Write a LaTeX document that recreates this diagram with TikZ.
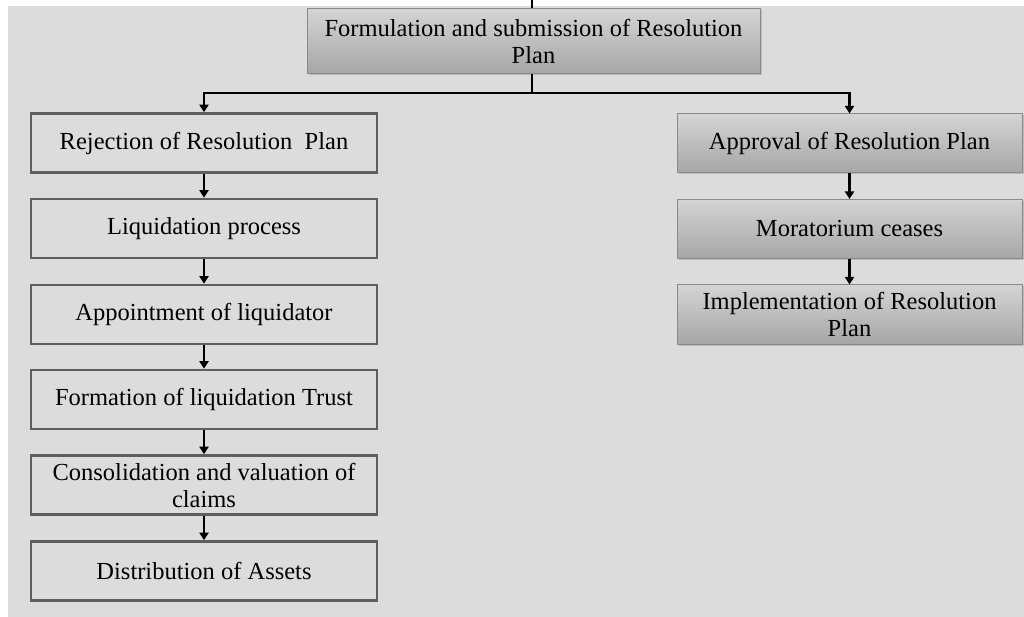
\documentclass[tikz,border=0pt]{standalone}
\usepackage{fontspec}
\setmainfont{Liberation Serif}
\usetikzlibrary{arrows.meta,shadows}
\definecolor{pagebg}{HTML}{DCDCDC}
\definecolor{plainedge}{HTML}{5E5E5E}
\definecolor{shadeedge}{HTML}{8A8A8A}
\definecolor{shadetop}{HTML}{D4D4D4}
\definecolor{shadebot}{HTML}{A6A6A6}
\tikzset{
  boxtext/.style={align=center, font=\fontsize{24.5}{27}\selectfont},
  plainbox/.style={boxtext, draw=plainedge, line width=2.6pt, fill=pagebg,
    minimum width=346pt, minimum height=59pt, inner sep=0pt},
  shadebox/.style={boxtext, draw=shadeedge, line width=1pt,
    top color=shadetop, bottom color=shadebot,
    drop shadow={shadow xshift=1.5pt, shadow yshift=-1.5pt, opacity=0.35},
    minimum width=345pt, minimum height=59pt, inner sep=0pt},
  link/.style={line width=2.4pt, black, -{Triangle[width=9pt,length=7.5pt]}},
  trunk/.style={line width=2.4pt, black}
}
\begin{document}
\begin{tikzpicture}[x=1pt,y=-1pt]
  \useasboundingbox (0,0) rectangle (1024,617);
  \fill[white] (0,0) rectangle (1024,617);
  \fill[pagebg] (8,6) rectangle (1024,617);

  % top box
  \node[shadebox, minimum width=453pt, minimum height=65pt] (plan) at (533.5,41.5)
    {Formulation and submission of Resolution\\Plan};
  \coordinate (stub) at (532,0);
  \coordinate (split) at (532,93);

  % left branch: rejection
  \node[plainbox] (reject)  at (204,143)   {Rejection of Resolution~ Plan};
  \node[plainbox] (liquid)  at (204,228.5) {Liquidation process};
  \node[plainbox] (appoint) at (204,314.5) {Appointment of liquidator};
  \node[plainbox] (trust)   at (204,399.5) {Formation of liquidation Trust};
  \node[plainbox] (claims)  at (204,485)   {Consolidation and valuation of\\claims};
  \node[plainbox] (assets)  at (204,571)   {Distribution of Assets};

  % right branch: approval
  \node[shadebox] (approve) at (849.5,143.5) {Approval of Resolution Plan};
  \node[shadebox] (morat)   at (849.5,229)   {Moratorium ceases};
  \node[shadebox] (implem)  at (849.5,314.5) {Implementation of Resolution\\Plan};

  % connectors
  \draw[trunk] (stub) -- (plan.north -| stub);
  \draw[trunk] (plan.south -| split) -- (split);
  \draw[link] (split) -| (reject.north);
  \draw[link] (split) -| (approve.north);
  \draw[link] (reject) -- (liquid);
  \draw[link] (liquid) -- (appoint);
  \draw[link] (appoint) -- (trust);
  \draw[link] (trust) -- (claims);
  \draw[link] (claims) -- (assets);
  \draw[link] (approve) -- (morat);
  \draw[link] (morat) -- (implem);
\end{tikzpicture}
\end{document}
